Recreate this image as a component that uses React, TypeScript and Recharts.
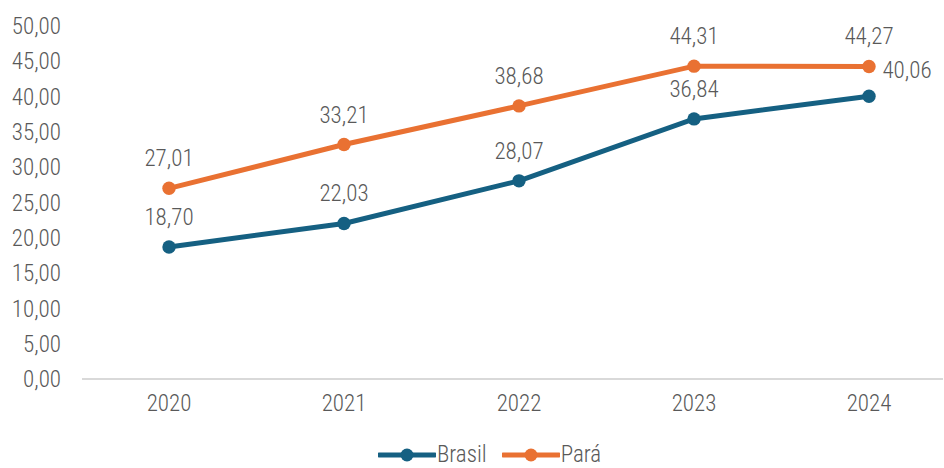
import React from "react";
import { LineChart, Line, XAxis, YAxis, Legend, LabelList } from "recharts";

const years = ["2020", "2021", "2022", "2023", "2024"];
const brasil = [18.7, 22.03, 28.07, 36.84, 40.06];
const para = [27.01, 33.21, 38.68, 44.31, 44.27];
const yTicks = [0, 5, 10, 15, 20, 25, 30, 35, 40, 45, 50];

const data = years.map((y, i) => ({ year: y, brasil: brasil[i], para: para[i] }));

const BLUE = "#156082";
const ORANGE = "#E97132";
const GRAY = "#595959";
const FONT = "'Liberation Sans Narrow', 'Roboto Condensed', 'Arial Narrow', sans-serif";
const FS = 23;
const FW = 300;

const fmt = (v: number) => v.toFixed(2).replace(".", ",");

const makeLabel = (series: "brasil" | "para") => (props: any) => {
  const { x, y, value, index } = props;
  let dx = 0;
  let dy = -22;
  if (series === "brasil" && index === years.length - 1) {
    dx = 38;
    dy = -18;
  }
  return (
    <text
      x={x + dx}
      y={y + dy}
      textAnchor="middle"
      fill={GRAY}
      fontSize={FS}
      fontWeight={FW}
      fontFamily={FONT}
    >
      {fmt(value)}
    </text>
  );
};

const LegendContent = () => {
  const item = (color: string, label: string, mr: number) => (
    <div style={{ display: "flex", alignItems: "center", marginRight: mr }}>
      <svg width={58} height={16}>
        <line x1={1} y1={8} x2={57} y2={8} stroke={color} strokeWidth={5} strokeLinecap="round" />
        <circle cx={29} cy={8} r={6.5} fill={color} />
      </svg>
      <span style={{ fontFamily: FONT, fontSize: FS, fontWeight: FW, color: GRAY, marginLeft: 1 }}>{label}</span>
    </div>
  );
  return (
    <div
      style={{
        height: 40,
        display: "flex",
        justifyContent: "flex-start",
        alignItems: "flex-end",
        paddingLeft: 378,
        boxSizing: "border-box",
      }}
    >
      {item(BLUE, "Brasil", 15)}
      {item(ORANGE, "Pará", 0)}
    </div>
  );
};

export default function App() {
  return (
    <div style={{ position: "fixed", left: 0, top: 0, background: "#fff" }}>
      <LineChart width={944} height={468} data={data} margin={{ top: 26, right: 1, bottom: 0, left: 0 }}>
        <XAxis
          dataKey="year"
          padding={{ left: 87, right: 74 }}
          axisLine={{ stroke: "#D9D9D9", strokeWidth: 2 }}
          tickLine={false}
          tickSize={0}
          tickMargin={16}
          height={49}
          tick={{ fill: GRAY, fontSize: FS, fontWeight: FW, fontFamily: FONT }}
        />
        <YAxis
          domain={[0, 50]}
          ticks={yTicks}
          interval={0}
          width={82}
          axisLine={false}
          tickLine={false}
          tickSize={0}
          tickMargin={21}
          tickFormatter={(v: number) => fmt(v)}
          tick={{ fill: GRAY, fontSize: FS, fontWeight: FW, fontFamily: FONT }}
        />
        <Legend verticalAlign="bottom" align="left" height={40} content={<LegendContent />} />
        <Line
          dataKey="brasil"
          name="Brasil"
          stroke={BLUE}
          strokeWidth={5}
          dot={{ r: 6.7, fill: BLUE, stroke: BLUE, strokeWidth: 0 }}
          isAnimationActive={false}
        >
          <LabelList dataKey="brasil" content={makeLabel("brasil")} />
        </Line>
        <Line
          dataKey="para"
          name="Pará"
          stroke={ORANGE}
          strokeWidth={5}
          dot={{ r: 6.7, fill: ORANGE, stroke: ORANGE, strokeWidth: 0 }}
          isAnimationActive={false}
        >
          <LabelList dataKey="para" content={makeLabel("para")} />
        </Line>
      </LineChart>
    </div>
  );
}
